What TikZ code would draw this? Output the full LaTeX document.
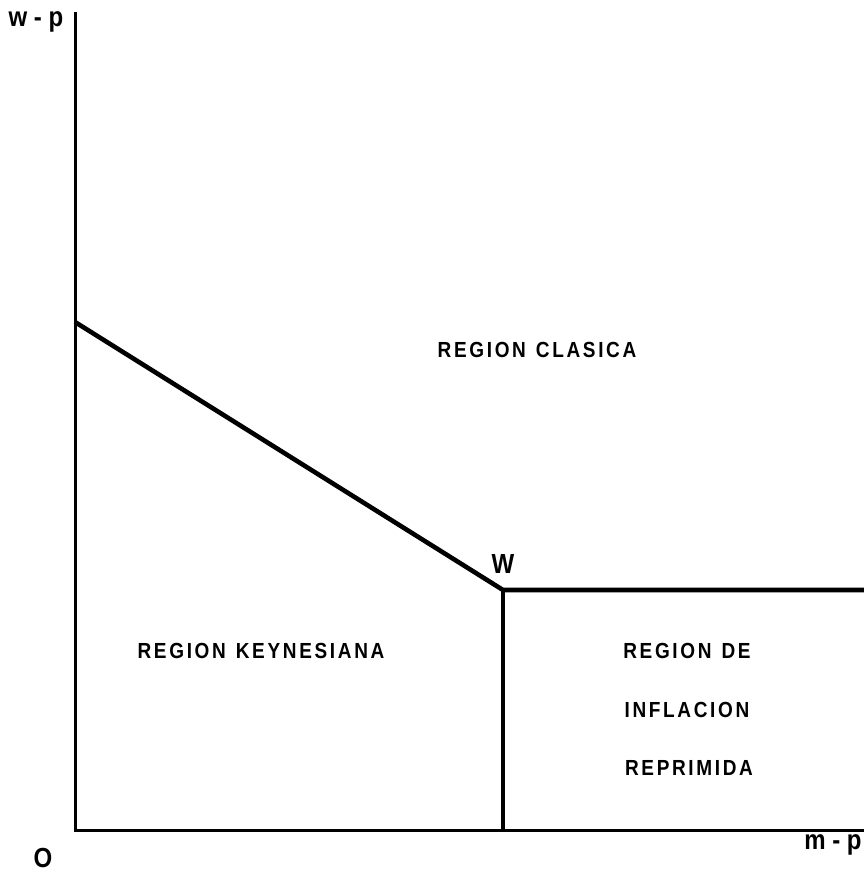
\documentclass[tikz,border=0pt]{standalone}
\usepackage{fontspec}
\setmainfont{Liberation Sans}
\newcommand{\tall}[1]{\scalebox{1}[1.15]{#1}}
\newcommand{\wsp}{\hspace{10pt}}
\begin{document}
\begin{tikzpicture}[x=1pt,y=-1pt,
  axis/.style={line width=3pt},
  bound/.style={line width=4.6pt},
  reg/.style={font=\bfseries\fontsize{19}{24}\selectfont\addfontfeatures{LetterSpace=14}, inner sep=0pt, anchor=center},
  axlab/.style={font=\bfseries\fontsize{24}{30}\selectfont, inner sep=0pt, anchor=center}]
\useasboundingbox (0,0) rectangle (864,873);
\coordinate (top) at (75,12);
\coordinate (orig) at (75,830);
\coordinate (xend) at (864,830);
\coordinate (a) at (75,322);
\coordinate (w) at (503,590);
\coordinate (wr) at (864,590);
\coordinate (wb) at (503,830);
\draw[axis] (top) -- (orig) -- (xend);
\draw[bound, line join=miter] (a) -- (w) -- (wr);
\draw[bound] (w) -- (wb);
\node[axlab] (lwp) at (36,22) {\tall{w - p}};
\node[axlab] (lo) at (43,858) {\tall{O}};
\node[axlab] (lmp) at (833,845) {\tall{m - p}};
\node[axlab] (lw) at (503,564) {\tall{W}};
\node[reg] (rc) at (537,350) {\tall{REGION\wsp CLASICA}};
\node[reg] (rk) at (261,651) {\tall{REGION\wsp KEYNESIANA}};
\node[reg] (rd1) at (687,651) {\tall{REGION\wsp DE}};
\node[reg] (rd2) at (687,710) {\tall{INFLACION}};
\node[reg] (rd3) at (689,768) {\tall{REPRIMIDA}};
\end{tikzpicture}
\end{document}
